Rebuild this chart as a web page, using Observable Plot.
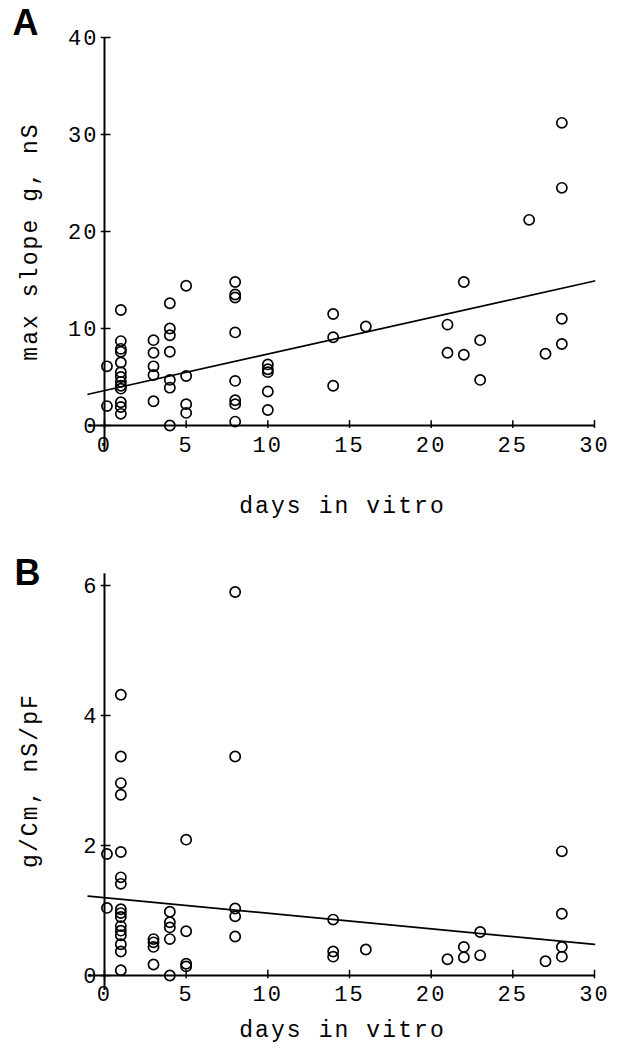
<!DOCTYPE html>
<html><head><meta charset="utf-8">
<script src="https://cdn.jsdelivr.net/npm/d3@7"></script>
<script src="https://cdn.jsdelivr.net/npm/@observablehq/plot@0.6"></script>
<style>
body{margin:0;background:#fff;}
#chart svg{display:block;}
</style></head><body><div id="chart"></div>
<script>
// Panel A: max slope g (nS) vs days in vitro
const daysA = [0.15,0.15,
  1,1,1,1,1,1,1,1,1,1,1,1,1,
  3,3,3,3,3,
  4,4,4,4,4,4,4,
  5,5,5,5,
  8,8,8,8,8,8,8,8,
  10,10,10,10,10,
  14,14,14,
  16,
  21,21,
  22,22,
  23,23,
  26,
  27,
  28,28,28,28];
const gA = [6.1,2.0,
  11.9,8.7,7.9,7.6,6.5,5.5,5.0,4.5,4.1,3.8,2.4,1.9,1.2,
  8.8,7.5,6.1,5.2,2.5,
  12.6,10.0,9.3,7.6,4.7,3.9,0,
  14.4,5.1,2.2,1.3,
  14.8,13.5,13.2,9.6,4.6,2.6,2.2,0.4,
  6.3,5.8,5.5,3.5,1.6,
  11.5,9.1,4.1,
  10.2,
  10.4,7.5,
  14.8,7.3,
  8.8,4.7,
  21.2,
  7.4,
  31.2,24.5,11.0,8.4];

// Panel B: g/Cm (nS/pF) vs days in vitro
const daysB = [0.15,0.15,
  1,1,1,1,1,1,1,1,1,1,1,1,1,1,1,1,
  3,3,3,3,
  4,4,4,4,4,
  5,5,5,5,
  8,8,8,8,8,
  14,14,14,
  16,
  21,
  22,22,
  23,23,
  27,
  28,28,28,28];
const gB = [1.87,1.04,
  4.32,3.37,2.96,2.78,1.90,1.51,1.41,1.02,0.96,0.90,0.76,0.69,0.62,0.48,0.37,0.08,
  0.56,0.51,0.44,0.17,
  0.98,0.82,0.74,0.56,0.0,
  2.09,0.68,0.18,0.14,
  5.9,3.37,1.03,0.91,0.6,
  0.86,0.37,0.29,
  0.40,
  0.25,
  0.44,0.28,
  0.67,0.31,
  0.22,
  1.91,0.95,0.44,0.29];

// Regression lines
const fitX = [-1, 30];
const fitA = [3.22, 14.9];
const fitB = [1.22, 0.48];

const xTicks = [0,5,10,15,20,25,30];
const yTicksA = [0,10,20,30,40];
const yTicksB = [0,2,4,6];

const mono = "'Liberation Mono','Courier New',monospace";

function panel(o) {
  const pts = o.days.map((d,i) => ({x: d, y: o.vals[i]}));
  const fit = fitX.map((d,i) => ({x: d, y: o.fit[i]}));
  return Plot.plot({
    width: 621,
    height: o.height,
    marginLeft: 104,
    marginRight: 27,
    marginTop: o.marginTop,
    marginBottom: o.marginBottom,
    style: {fontFamily: mono, fontSize: "22px", letterSpacing: "2.1px", color: "black", background: "white"},
    x: {domain: [0,30], axis: null},
    y: {domain: o.yDomain, axis: null},
    marks: [
      // axis lines
      Plot.ruleY([0], {x1: -1, x2: 30, strokeWidth: 2}),
      Plot.ruleX([0], {y1: o.yLow, y2: o.yTop, strokeWidth: 2}),
      // ticks
      Plot.ruleY(o.yTicks, {y: d => d, x1: -0.2, x2: 0.4, strokeWidth: 1.5}),
      Plot.ruleX(xTicks, {x: d => d, y1: o.xt1, y2: o.xt2, strokeWidth: 1.5}),
      Plot.axisY({ticks: o.yTicks, tickFormat: d3.format("d"), tickSize: 0, tickPadding: 6, fontSize: 22, label: null}),
      Plot.axisX({ticks: xTicks, tickFormat: d3.format("d"), tickSize: 0, tickPadding: o.xPad, fontSize: 22, label: null}),
      // regression
      Plot.line(fit, {x: "x", y: "y", strokeWidth: 1.7}),
      // data
      Plot.dot(pts, {x: "x", y: "y", r: 5.1, stroke: "black", strokeWidth: 1.7, fill: "none"}),
      // titles
      Plot.text(["days in vitro"], {frameAnchor: "bottom", textAnchor: "middle", dx: -7, dy: o.xLabDy, fontSize: 23}),
      Plot.text([o.ylabel], {frameAnchor: "left", textAnchor: "middle", lineAnchor: "middle", rotate: -90, dx: -75, dy: o.yLabDy, fontSize: 23}),
      Plot.text([o.letter], {frameAnchor: "top-left", textAnchor: "start", lineAnchor: "middle", dx: o.letDx, dy: o.letDy,
        fontSize: 36, fontWeight: "bold", fontFamily: "'Liberation Sans',Arial,sans-serif"})
    ]
  });
}

const chart = document.getElementById("chart");
chart.appendChild(panel({
  days: daysA, vals: gA, fit: fitA, yDomain: [0,40], yTicks: yTicksA,
  yLow: -2.6, yTop: 40, xt1: -0.3, xt2: 0.5, xPad: 11,
  height: 545, marginTop: 37, marginBottom: 120,
  ylabel: "max slope g, nS", xLabDy: 87, yLabDy: 10,
  letter: "A", letDx: -92, letDy: -14
}));
chart.appendChild(panel({
  days: daysB, vals: gB, fit: fitB, yDomain: [0,6], yTicks: yTicksB,
  yLow: -0.23, yTop: 6.18, xt1: -0.05, xt2: 0.08, xPad: 10,
  height: 512, marginTop: 40, marginBottom: 82,
  ylabel: "g/Cm, nS/pF", xLabDy: 61, yLabDy: 0,
  letter: "B", letDx: -90, letDy: -12
}));
</script></body></html>
